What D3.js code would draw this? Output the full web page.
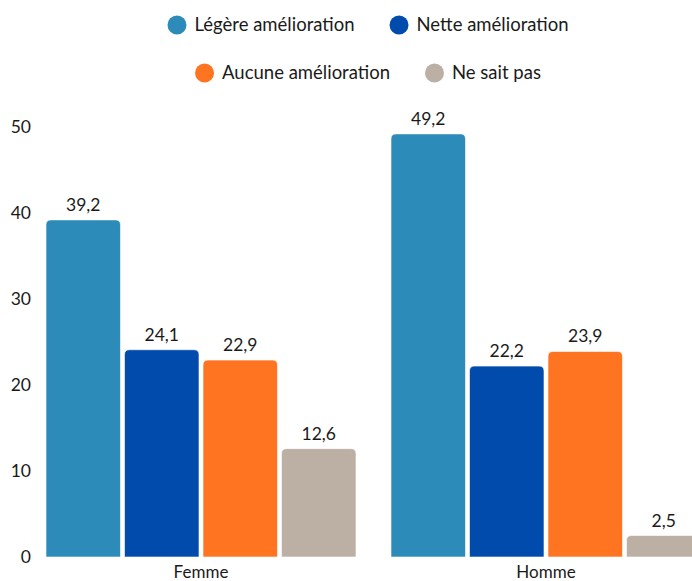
<!DOCTYPE html>
<html><head><meta charset="utf-8">
<script src="https://cdn.jsdelivr.net/npm/d3@7"></script>
<style>
html,body{margin:0;padding:0;background:#fff;}
svg text{font-family:Lato, "Open Sans", sans-serif;fill:#1a1a1a;}
</style></head>
<body>
<svg id="c" width="692" height="581"></svg>
<script>
const categories = ["Femme", "Homme"];
const seriesNames = ["Légère amélioration", "Nette amélioration", "Aucune amélioration", "Ne sait pas"];
const legereValues = [39.2, 49.2];
const netteValues = [24.1, 22.2];
const aucuneValues = [22.9, 23.9];
const nspValues = [12.6, 2.5];
const colors = ["#2d8bba", "#014bad", "#fe7420", "#bcb0a5"];
const yTicks = [0, 10, 20, 30, 40, 50];

const seriesValues = [legereValues, netteValues, aucuneValues, nspValues];
const data = categories.map((c, i) => ({cat: c, vals: seriesNames.map((s, j) => ({s, j, v: seriesValues[j][i]}))}));

const svg = d3.select("#c");
const fmt = d3.formatLocale({decimal: ",", thousands: " ", grouping: [3], currency: ["", "€"]}).format(".1f");

const y = d3.scaleLinear().domain([0, 50]).range([557, 127]);
const x0 = d3.scaleBand().domain(categories).range([28.5, 718.5]).paddingInner(0.1014).paddingOuter(0.0507);
const x1 = d3.scaleBand().domain(seriesNames).range([0, x0.bandwidth()]).paddingInner(0.051);

// y axis labels
svg.append("g").selectAll("text").data(yTicks).join("text")
  .attr("x", 31).attr("y", d => y(d)).attr("dy", "0.35em")
  .attr("text-anchor", "end").attr("font-size", 17.5).text(d => d);

function topRounded(x, yTop, w, h, r) {
  r = Math.min(r, h, w / 2);
  return `M${x},${yTop + h}V${yTop + r}Q${x},${yTop} ${x + r},${yTop}H${x + w - r}Q${x + w},${yTop} ${x + w},${yTop + r}V${yTop + h}Z`;
}

const g = svg.append("g").selectAll("g").data(data).join("g")
  .attr("transform", d => `translate(${x0(d.cat)},0)`);

g.selectAll("path").data(d => d.vals).join("path")
  .attr("d", d => topRounded(x1(d.s), y(d.v), x1.bandwidth(), y(0) - y(d.v), 5))
  .attr("fill", d => colors[d.j])
  .attr("stroke", "#fff").attr("stroke-width", 0.6);

g.selectAll("text.val").data(d => d.vals).join("text").attr("class", "val")
  .attr("x", d => x1(d.s) + x1.bandwidth() / 2).attr("y", d => y(d.v) - 9)
  .attr("text-anchor", "middle").attr("font-size", 17.5).text(d => fmt(d.v));

// x labels
svg.append("g").selectAll("text").data(categories).join("text")
  .attr("x", d => x0(d) + x0.bandwidth() / 2).attr("y", 578)
  .attr("text-anchor", "middle").attr("font-size", 17).text(d => d);

// legend
const rows = [[0, 1], [2, 3]];
const rowY = [25, 73];
const cx = 368;
rows.forEach((row, ri) => {
  const lg = svg.append("g");
  let xpos = 0;
  row.forEach((si, k) => {
    const item = lg.append("g").attr("transform", `translate(${xpos},0)`);
    item.append("circle").attr("cx", 9.5).attr("cy", 0).attr("r", 9.5).attr("fill", colors[si]);
    const t = item.append("text").attr("x", 27).attr("y", 0).attr("dy", "0.35em")
      .attr("font-size", 18.5).text(seriesNames[si]);
    xpos += 27 + t.node().getComputedTextLength() + 35;
  });
  const w = xpos - 35;
  lg.attr("transform", `translate(${cx - w / 2},${rowY[ri]})`);
});
</script>
</body></html>
